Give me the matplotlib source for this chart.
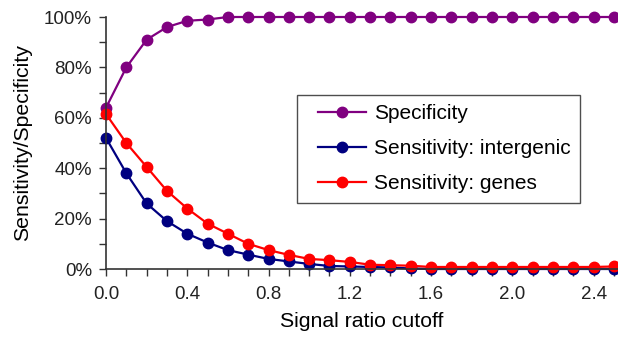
import numpy as np
import matplotlib
matplotlib.use("Agg")
import matplotlib.pyplot as plt
from matplotlib.ticker import MultipleLocator, PercentFormatter
from matplotlib.legend_handler import HandlerLine2D

plt.rcParams["font.family"] = ["Liberation Sans", "DejaVu Sans"]

# signal ratio cutoffs 0.0 .. 2.5
cutoff = [round(0.1 * i, 1) for i in range(26)]

specificity = [64, 80, 91, 96, 98.5, 99, 100, 100, 100, 100, 100, 100, 100,
               100, 100, 100, 100, 100, 100, 100, 100, 100, 100, 100, 100, 100]
sens_intergenic = [52, 38, 26, 19, 14, 10.5, 7.5, 5.7, 4, 3, 2, 1.2, 1,
                   0.8, 0.6, 0.2, 0, 0, 0, 0, 0, 0, 0, 0, 0, 0]
sens_genes = [61.5, 50, 40.5, 31, 24, 18, 14, 10, 7.5, 5.6, 4, 3.5, 2.8,
              1.7, 1.5, 1.3, 0.8, 0.8, 0.8, 0.8, 0.8, 0.8, 0.8, 0.8, 0.8, 1]

labels = ["Specificity", "Sensitivity: intergenic", "Sensitivity: genes"]
colors = ["#800080", "#000080", "#ff0000"]

fig = plt.figure(figsize=(6.18, 3.37), dpi=100)
ax = fig.add_axes([106 / 618, 68 / 337, 1 - 106 / 618, 252 / 337])

lines = []
for y, lab, c in zip([specificity, sens_intergenic, sens_genes], labels, colors):
    ln, = ax.plot(cutoff, y, color=c, lw=1.6, marker="o", ms=7.5, label=lab, clip_on=False)
    lines.append(ln)

ax.set_xlim(0, 2.52)
ax.set_ylim(0, 100)
ax.xaxis.set_major_locator(MultipleLocator(0.4))
ax.xaxis.set_minor_locator(MultipleLocator(0.1))
ax.yaxis.set_major_locator(MultipleLocator(20))
ax.yaxis.set_minor_locator(MultipleLocator(10))
ax.yaxis.set_major_formatter(PercentFormatter(decimals=0))
ax.xaxis.set_major_formatter(lambda v, p: f"{v:.1f}")

ax.tick_params(which="both", direction="out", length=5, width=1, colors="#333333",
               labelsize=13.5, labelcolor="#222222")
ax.tick_params(axis="x", pad=7)
ax.tick_params(axis="y", pad=5)
for s in ["top", "right"]:
    ax.spines[s].set_visible(False)
for s in ["left", "bottom"]:
    ax.spines[s].set_color("#333333")
    ax.spines[s].set_linewidth(1.2)

ax.set_xlabel("Signal ratio cutoff", fontsize=15.3, labelpad=7)
ax.set_ylabel("Sensitivity/Specificity", fontsize=15.3, labelpad=9)

# shift handle lines right inside the legend box
hmap = {ln: HandlerLine2D(xpad=0.56) for ln in lines}
leg = ax.legend(loc="upper left", bbox_to_anchor=(297 / 618, 1 - 95 / 337),
                bbox_transform=fig.transFigure, fontsize=15, handlelength=2.87,
                handler_map=hmap, fancybox=False, edgecolor="#222222",
                borderpad=0.45, labelspacing=0.77, handletextpad=0.38,
                borderaxespad=0)
leg.get_frame().set_linewidth(1.0)

fig.savefig("out.png", dpi=100)
